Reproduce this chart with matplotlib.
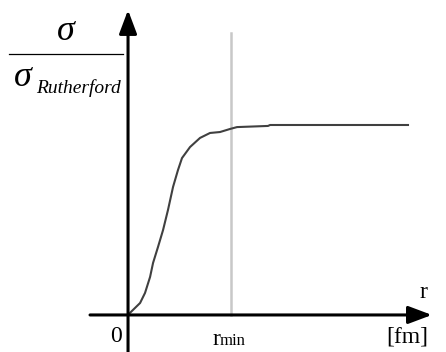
import matplotlib.pyplot as plt

# Curve (r in units of r_min, sigma in units of the plateau)
r = [0.0, 0.019, 0.117, 0.165, 0.214, 0.243, 0.291, 0.340, 0.388, 0.437,
     0.485, 0.524, 0.602, 0.699, 0.796, 0.893, 0.990, 1.058, 1.359, 1.379, 2.718]
ratio = [0.0, 0.011, 0.063, 0.116, 0.200, 0.274, 0.358, 0.447, 0.553, 0.674,
         0.763, 0.826, 0.884, 0.932, 0.958, 0.963, 0.979, 0.989, 0.995, 1.0, 1.0]
r_min = 1.0
r_min_top = 1.484

serif = ["Liberation Serif", "DejaVu Serif"]

# -----------------------------
# Figure
# -----------------------------
fig = plt.figure(figsize=(4.46, 3.52), dpi=100)
ax = fig.add_axes([0, 0, 1, 1])
ax.set_xlim(-1.243, 3.087)
ax.set_ylim(-0.195, 1.658)
ax.axis("off")

# r_min marker
ax.plot([r_min, r_min], [0, r_min_top], color="#c8c8c8", lw=1.8)

# curve
ax.plot(r, ratio, color="#404040", lw=1.5)

# axes with arrows
arrow = dict(arrowstyle="-|>,head_length=0.8,head_width=0.3",
             mutation_scale=18, lw=2.2, color="black",
             shrinkA=0, shrinkB=0)
ax.annotate("", xy=(0, 1.605), xytext=(0, -0.2), arrowprops=arrow)
ax.annotate("", xy=(2.95, 0), xytext=(-0.369, 0), arrowprops=arrow)

# -----------------------------
# Labels (placed in pixel fractions)
# -----------------------------
def px(x, y):
    return x / 446, 1 - y / 352

t = ax.transAxes
ax.text(*px(66, 32), "σ", transform=t, ha="center", va="center",
        fontsize=26, family=serif, style="italic")
ax.plot([9 / 446, 123 / 446], [1 - 54 / 352, 1 - 54 / 352],
        transform=t, color="black", lw=0.9)
ax.text(*px(23, 77), "σ", transform=t, ha="center", va="center",
        fontsize=26, family=serif, style="italic")
ax.text(*px(36, 93), "Rutherford", transform=t, ha="left", va="baseline",
        fontsize=14, family=serif, style="italic")

ax.text(*px(423, 293), "r", transform=t, ha="center", va="center",
        fontsize=17, family=serif)
ax.text(*px(407, 337), "[fm]", transform=t, ha="center", va="center",
        fontsize=17, family=serif)
ax.text(*px(116, 337), "0", transform=t, ha="center", va="center",
        fontsize=17, family=serif)
ax.text(*px(220, 345), "r", transform=t, ha="right", va="baseline",
        fontsize=17, family=serif)
ax.text(*px(220, 345), "min", transform=t, ha="left", va="baseline",
        fontsize=12, family=serif)

fig.savefig("out.png", dpi=100)
